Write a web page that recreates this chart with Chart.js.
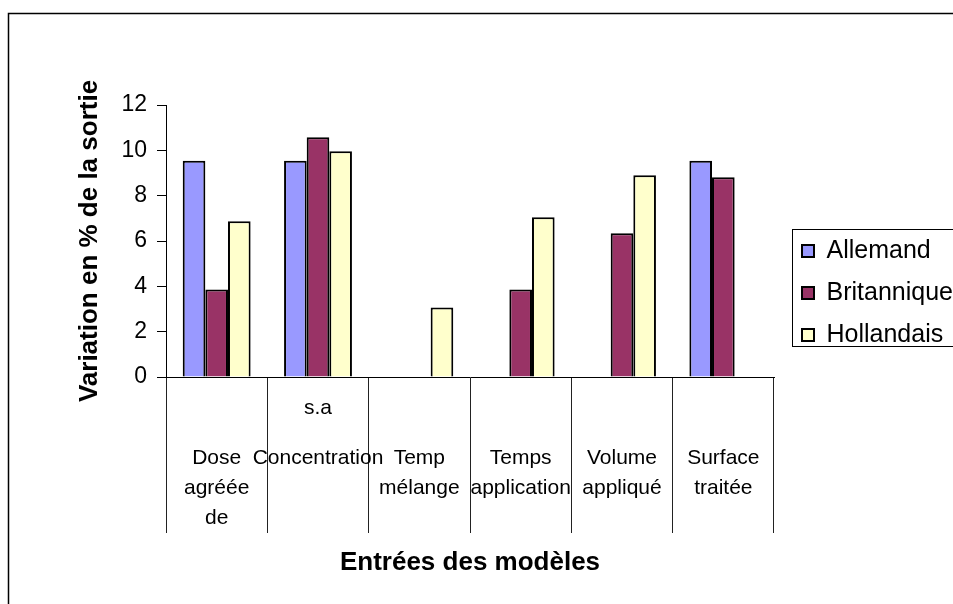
<!DOCTYPE html>
<html lang="fr">
<head>
<meta charset="utf-8">
<title>Variation en % de la sortie</title>
<script src="https://cdn.jsdelivr.net/npm/chart.js@4/dist/chart.umd.min.js"></script>
<style>
  html, body { margin: 0; padding: 0; background: #fff; overflow: hidden; }
  #chart { display: block; }
</style>
</head>
<body>
<canvas id="chart" width="953" height="604"></canvas>
<script>
// Model inputs (each entry is the wrapped label, one string per line)
const categoryNames = [
  ["Dose", "agréée", "de"],
  ["Concentration"],
  ["Temp", "mélange"],
  ["Temps", "application"],
  ["Volume", "appliqué"],
  ["Surface", "traitée"]
];
// Short note printed above a category name
const categoryNotes = ["", "s.a", "", "", "", ""];

const seriesNames = ["Allemand", "Britannique", "Hollandais"];

// Output variation (%) per model input, one array per model
const allemand    = [9.54, 9.54, null, null, null, 9.54];
const britannique = [3.86, 10.58, null, 3.86, 6.34, 8.81];
const hollandais  = [6.87, 9.96, 3.07, 7.05, 8.90, null];

const yMin = 0, yMax = 12, yStep = 2;

const FONT = "'Liberation Sans', Arial, Helvetica, sans-serif";
Chart.defaults.font.family = FONT;
Chart.defaults.color = "#000";

// White page, and the outer frame of the chart
const chartFrame = {
  id: "chartFrame",
  beforeDraw(chart) {
    const ctx = chart.ctx;
    ctx.save();
    ctx.fillStyle = "#fff";
    ctx.fillRect(0, 0, chart.width, chart.height);
    ctx.strokeStyle = "#000";
    ctx.lineWidth = 1.5;
    ctx.beginPath();
    ctx.moveTo(8.5, chart.height + 2);
    ctx.lineTo(8.5, 13.5);
    ctx.lineTo(chart.width + 2, 13.5);
    ctx.stroke();
    ctx.restore();
  }
};

// Move the legend next to the plot, a little lower, and frame it
const legendFrame = {
  id: "legendFrame",
  afterLayout(chart) {
    const lg = chart.legend;
    lg.left += 11;
    lg.right = lg.left + 220;
    lg.width = 220;
    lg.top += 52; lg.bottom += 52;
  },
  afterDraw(chart) {
    const boxes = chart.legend.legendHitBoxes;
    if (!boxes || !boxes.length) return;
    const first = boxes[0], last = boxes[boxes.length - 1];
    const x = Math.round(first.left - 10) + 0.5;
    const y = Math.round(first.top - 10) + 0.5;
    const y2 = Math.round(last.top + last.height - 2) + 0.5;
    const ctx = chart.ctx;
    ctx.save();
    ctx.strokeStyle = "#000";
    ctx.lineWidth = 1;
    ctx.strokeRect(x, y, chart.width + 10 - x, y2 - y);
    ctx.restore();
  }
};

const makeSet = (label, data, color) => ({
  label,
  data,
  backgroundColor: color,
  borderColor: "#000",
  borderWidth: 2,
  categoryPercentage: 0.67,
  barPercentage: 1.0
});

new Chart(document.getElementById("chart"), {
  type: "bar",
  data: {
    labels: categoryNames,
    datasets: [
      makeSet(seriesNames[0], allemand, "#9999FF"),
      makeSet(seriesNames[1], britannique, "#993366"),
      makeSet(seriesNames[2], hollandais, "#FFFFCC")
    ]
  },
  options: {
    responsive: false,
    devicePixelRatio: 1,
    animation: false,
    layout: { padding: { left: 74, top: 105, right: 29, bottom: 0 } },
    plugins: {
      title: { display: false },
      tooltip: { enabled: false },
      legend: {
        position: "right",
        fullSize: false,
        maxWidth: 150,
        labels: {
          boxWidth: 12,
          boxHeight: 12,
          padding: 17,
          color: "#000",
          font: { size: 25 }
        }
      }
    },
    scales: {
      x: {
        afterFit(scale) { scale.height = 227; },
        border: { display: true, color: "#000", width: 1 },
        grid: {
          offset: true,
          drawOnChartArea: false,
          drawTicks: true,
          tickLength: 156,
          color: "#222",
          lineWidth: 1
        },
        ticks: {
          autoSkip: false,
          minRotation: 0,
          maxRotation: 0,
          padding: -130,
          color: "#000",
          font: { size: 21, lineHeight: "10px" },
          callback(value, index) {
            // note on top, then the name lines, on a 10px row pitch
            const out = [categoryNotes[index], "", "", "", ""];
            categoryNames[index].forEach((line, i) => {
              if (i) out.push("", "");
              out.push(line);
            });
            return out;
          }
        },
        title: {
          display: true,
          text: "Entrées des modèles",
          color: "#000",
          font: { size: 26, weight: "bold", lineHeight: 1.2 },
          padding: { top: 0, bottom: 26 }
        }
      },
      y: {
        min: yMin,
        max: yMax,
        afterFit(scale) { scale.width = 92; },
        border: { display: true, color: "#000", width: 1 },
        grid: {
          drawOnChartArea: false,
          drawTicks: true,
          tickLength: 9,
          color: "#000"
        },
        ticks: {
          stepSize: yStep,
          padding: 10,
          color: "#000",
          font: { size: 23 }
        },
        title: {
          display: true,
          text: "Variation en % de la sortie",
          color: "#000",
          font: { size: 26, weight: "bold", lineHeight: 1.2 },
          padding: { top: 0, bottom: 0 }
        }
      }
    }
  },
  plugins: [chartFrame, legendFrame]
});
</script>
</body>
</html>
